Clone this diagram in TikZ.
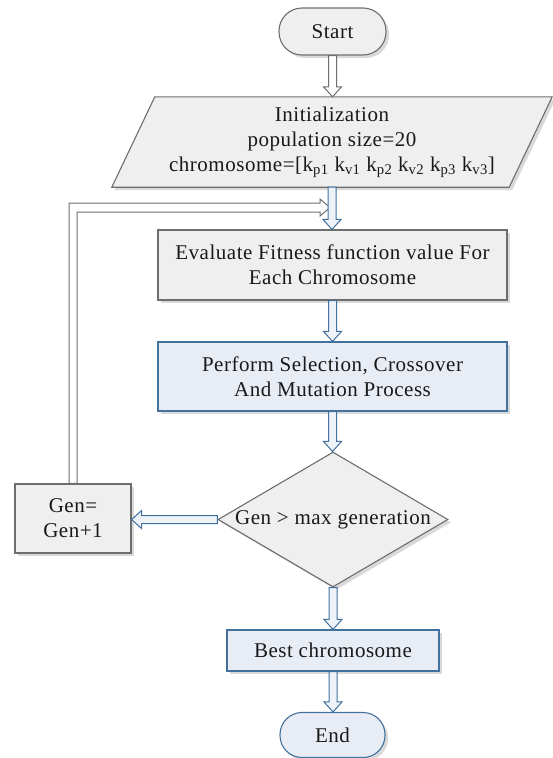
\documentclass[tikz,border=0pt]{standalone}
\usepackage{fontspec}
\setmainfont{Liberation Serif}
\newfontfamily\tnr{Liberation Serif}[LetterSpace=2.5]
\usetikzlibrary{shapes.geometric,shadows,calc,backgrounds}
\definecolor{gfill}{HTML}{EFEFEF}
\definecolor{gline}{HTML}{6E6E6E}
\definecolor{bline}{HTML}{41719C}
\definecolor{bfill}{HTML}{E8EDF5}
\definecolor{afill}{HTML}{EEF2F9}
\tikzset{
 shadowed/.style={drop shadow={shadow xshift=3pt, shadow yshift=-3pt, fill=black!15, opacity=1}},
 txt/.style={font=\tnr\fontsize{21}{25}\selectfont, align=center, text=black!90, inner sep=0pt},
 graybox/.style={txt, draw=gline, fill=gfill, line width=1.1pt, shadowed},
 bluebox/.style={txt, draw=bline, fill=bfill, line width=1.1pt, shadowed},
 gpoly/.style={draw=gline, fill=gfill, line width=1.1pt, line join=miter, shadowed},
 vblock/.style={line width=1pt, line join=miter, to path={let \p1=(\tikztostart), \p2=(\tikztotarget) in
   (\x1-4pt,\y1) -- (\x1-4pt,\y2+10pt) -- (\x1-9pt,\y2+10pt) -- (\x1,\y2) -- (\x1+9pt,\y2+10pt) -- (\x1+4pt,\y2+10pt) -- (\x1+4pt,\y1) -- cycle}},
 hblock/.style={line width=1pt, line join=miter, to path={let \p1=(\tikztostart), \p2=(\tikztotarget) in
   (\x1,\y1+4pt) -- (\x2+10pt,\y1+4pt) -- (\x2+10pt,\y1+9pt) -- (\x2,\y1) -- (\x2+10pt,\y1-9pt) -- (\x2+10pt,\y1-4pt) -- (\x1,\y1-4pt) -- cycle}},
 loopblock/.style={line width=1pt, line join=miter, to path={let \p1=(\tikztostart), \p2=(\tikztotarget) in
   (\x1-4pt,\y1) -- (\x1-4pt,\y2+4.5pt) -- (\x2-10pt,\y2+4.5pt) -- (\x2-10pt,\y2+8.5pt) -- (\x2,\y2) -- (\x2-10pt,\y2-8.5pt) -- (\x2-10pt,\y2-4.5pt) -- (\x1+4pt,\y2-4.5pt) -- (\x1+4pt,\y1) -- cycle}},
 bluearrow/.style={vblock, draw=bline, fill=afill},
 grayarrow/.style={vblock, draw=gline, fill=white},
}
\begin{document}
\begin{tikzpicture}[x=1pt,y=-1pt]
\useasboundingbox (0,0) rectangle (553,758);
\node[graybox, rounded corners=23pt, minimum width=107pt, minimum height=47pt] (start) at (332.5,31.5) {Start};
\node[txt, minimum width=354pt, minimum height=90pt] (init) at (332,142)
  {Initialization\\population size=20\\chromosome=[k\textsubscript{p1} k\textsubscript{v1} k\textsubscript{p2} k\textsubscript{v2} k\textsubscript{p3} k\textsubscript{v3}]};
\begin{scope}[on background layer]
\draw[gpoly] (init.north west) -- ([xshift=43pt]init.north east) -- (init.south east) -- ([xshift=-43pt]init.south west) -- cycle;
\end{scope}
\node[graybox, minimum width=349pt, minimum height=70pt] (eval) at (332.5,265) {Evaluate Fitness function value For\\Each Chromosome};
\node[bluebox, minimum width=349pt, minimum height=69pt] (perf) at (332.5,376.5) {Perform Selection, Crossover\\And Mutation Process};
\node[graybox, diamond, aspect=1.7, minimum width=230pt, minimum height=135pt] (dec) at (333,519.5) {Gen {>} max generation};
\node[graybox, minimum width=116pt, minimum height=69pt] (gen) at (73,518.5) {Gen=\\Gen+1};
\node[bluebox, minimum width=212pt, minimum height=41pt] (best) at (333,650.5) {Best chromosome};
\node[bluebox, rounded corners=22pt, minimum width=105pt, minimum height=45pt] (end) at (332.5,735) {End};
\coordinate (loopend) at (330,207.5);
\draw[loopblock, draw=gline, fill=white] (gen.north) to (loopend);
\draw[grayarrow] (start.south) to (init.north);
\draw[bluearrow] (init.south) to (eval.north);
\draw[bluearrow] (eval.south) to (perf.north);
\draw[bluearrow] (perf.south) to (dec.north);
\draw[bluearrow] (dec.south) to (best.north);
\draw[bluearrow] (best.south) to (end.north);
\draw[hblock, draw=bline, fill=afill] (dec.west) to (gen.east);
\end{tikzpicture}
\end{document}
